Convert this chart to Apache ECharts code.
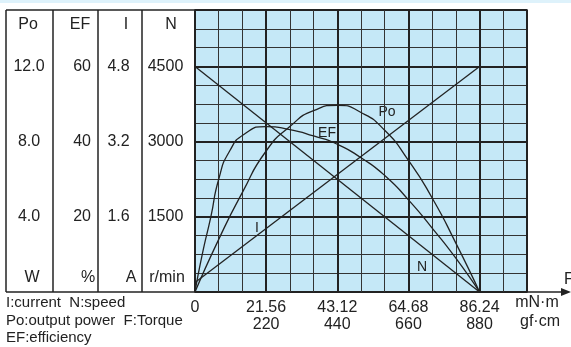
<!DOCTYPE html>
<html>
<head>
<meta charset="utf-8">
<title>motor curve</title>
<script src="https://cdn.jsdelivr.net/npm/echarts@6/dist/echarts.min.js"></script>
<style>
html,body{margin:0;padding:0;background:#fff;}
#main{width:571px;height:347px;}
</style>
</head>
<body>
<div id="main"></div>
<script>
// torque in mN·m, read per grid column
var torque = [0, 7.19, 14.37, 21.56, 28.75, 35.93, 43.12, 50.31, 57.49, 64.68, 71.87, 79.05, 86.24];
var power = [0, 2.8, 5.3, 7.5, 8.8, 9.65, 9.93, 9.55, 8.6, 7.0, 5.0, 2.6, 0];          // W
var effTorque = [0, 2.2, 4.8, 7.19, 10.5, 15, 21.56, 28.75, 35.93, 43.12, 50.31, 57.49, 64.68, 71.87, 79.05, 86.24];
var efficiency = [0, 10, 20, 30, 37.5, 42, 44, 43.2, 41.5, 39.3, 35.7, 31, 24.5, 17, 9, 0];   // %
var lineTorque = [0, 86.24];
var speed = [4500, 0];      // r/min
var current = [0.2, 4.8];   // A

// tick labels
var torqueTicks = ['0', '21.56', '43.12', '64.68', '86.24'];
var gfcmTicks = ['', '220', '440', '660', '880'];
var poTicks = ['4.0', '8.0', '12.0'];
var efTicks = ['20', '40', '60'];
var iTicks = ['1.6', '3.2', '4.8'];
var nTicks = ['1500', '3000', '4500'];

var FONT = '"Liberation Sans", Arial, sans-serif';
var INK = '#222';
var colW = 86.24 / 12;

function pairs(xs, ys) {
  var out = [];
  for (var i = 0; i < xs.length; i++) out.push([xs[i], ys[i]]);
  return out;
}
function pick(labels, step) {
  return function (v) {
    var i = Math.round(v / step) - 1;
    if (i < 0 || Math.abs(v - (i + 1) * step) > step * 0.01) return '';
    return labels[i] || '';
  };
}

function valueAxis(max, interval, labels, margin, align, split) {
  return {
    type: 'value', min: 0, max: max, interval: interval, position: 'left', offset: 0,
    axisLine: {show: false}, axisTick: {show: false},
    axisLabel: labels ? {
      show: true, margin: margin, align: align, color: INK, fontSize: 16, fontFamily: FONT,
      formatter: pick(labels, interval)
    } : {show: false},
    splitLine: split ? {show: true, lineStyle: split} : {show: false}
  };
}

function txt(x, y, s, size, align) {
  return {type: 'text', x: x, y: y, silent: true,
    style: {text: s, fill: INK, font: size + 'px ' + FONT, textAlign: align || 'center', textVerticalAlign: 'middle'}};
}
function ln(x1, y1, x2, y2, w) {
  return {type: 'line', silent: true, shape: {x1: x1, y1: y1, x2: x2, y2: y2},
    style: {stroke: INK, lineWidth: w || 1.5}};
}

var myChart = echarts.init(document.getElementById('main'));

var curve = {color: INK, width: 1.3};

var option = {
  animation: false,
  backgroundColor: '#fff',
  grid: {left: 195, top: 10, right: 44, bottom: 55, show: true,
    backgroundColor: '#c5e8f7', borderColor: INK, borderWidth: 1.5},
  xAxis: [
    {type: 'value', min: 0, max: colW * 14, interval: colW, position: 'bottom',
      axisLine: {show: false}, axisTick: {show: false}, axisLabel: {show: false},
      splitLine: {show: true, lineStyle: {color: '#333', width: 1}}},
    {type: 'value', min: 0, max: colW * 14, interval: colW * 3, position: 'bottom',
      axisLine: {show: false}, axisTick: {show: false},
      axisLabel: {show: true, margin: 7, color: INK, fontSize: 16, fontFamily: FONT, lineHeight: 17,
        formatter: function (v) {
          var i = Math.round(v / (colW * 3));
          if (Math.abs(v - i * colW * 3) > 0.05 || i >= torqueTicks.length) return '';
          return gfcmTicks[i] ? torqueTicks[i] + '\n' + gfcmTicks[i] : torqueTicks[i];
        }},
      splitLine: {show: true, lineStyle: {color: INK, width: 2}}}
  ],
  yAxis: [
    valueAxis(5625, 375, null, 0, 'right', {color: '#333', width: 1}),
    valueAxis(5625, 1500, nTicks, 29.5, 'center', {color: INK, width: 2}),
    valueAxis(15, 4, poTicks, 166, 'center', null),
    valueAxis(75, 20, efTicks, 104, 'right', null),
    valueAxis(6, 1.6, iTicks, 76.5, 'center', null)
  ],
  series: [
    {name: 'N', type: 'line', xAxisIndex: 0, yAxisIndex: 1, symbol: 'none', lineStyle: curve,
      data: pairs(lineTorque, speed)},
    {name: 'I', type: 'line', xAxisIndex: 0, yAxisIndex: 4, symbol: 'none', lineStyle: curve,
      data: pairs(lineTorque, current)},
    {name: 'Po', type: 'line', xAxisIndex: 0, yAxisIndex: 2, symbol: 'none', smooth: 0.6, lineStyle: curve,
      data: pairs(torque, power)},
    {name: 'EF', type: 'line', xAxisIndex: 0, yAxisIndex: 3, symbol: 'none', smooth: 0.6, lineStyle: curve,
      data: pairs(effTorque, efficiency)}
  ],
  graphic: [
    {type: 'rect', silent: true, shape: {x: 0, y: 0, width: 571, height: 3}, style: {fill: '#def2fb'}},
    // table frame
    ln(6, 10, 196, 10),
    ln(6, 10, 6, 292),
    ln(53, 10, 53, 292),
    ln(98, 10, 98, 292),
    ln(142, 10, 142, 292),
    ln(6, 292, 565, 292),
    {type: 'polygon', silent: true, shape: {points: [[561, 288], [571, 292], [561, 296]]}, style: {fill: INK}},
    // headers and units
    txt(28, 25, 'Po', 16), txt(80, 25, 'EF', 16), txt(126, 25, 'I', 16), txt(171, 25, 'N', 16),
    txt(32, 278, 'W', 16), txt(88, 278, '%', 16), txt(131, 278, 'A', 16), txt(167, 278, 'r/min', 16),
    // curve names
    txt(387, 112, 'Po', 14), txt(327, 133, 'EF', 14), txt(257, 228, 'I', 14), txt(422, 267, 'N', 14),
    // axis units
    txt(537, 303, 'mN·m', 16), txt(540, 322, 'gf·cm', 16), txt(564, 280, 'F', 16, 'left'),
    // legend notes
    txt(6, 303, 'I:current  N:speed', 15, 'left'),
    txt(6, 321, 'Po:output power  F:Torque', 15, 'left'),
    txt(6, 338, 'EF:efficiency', 15, 'left')
  ]
};

myChart.setOption(option);
</script>
</body>
</html>
